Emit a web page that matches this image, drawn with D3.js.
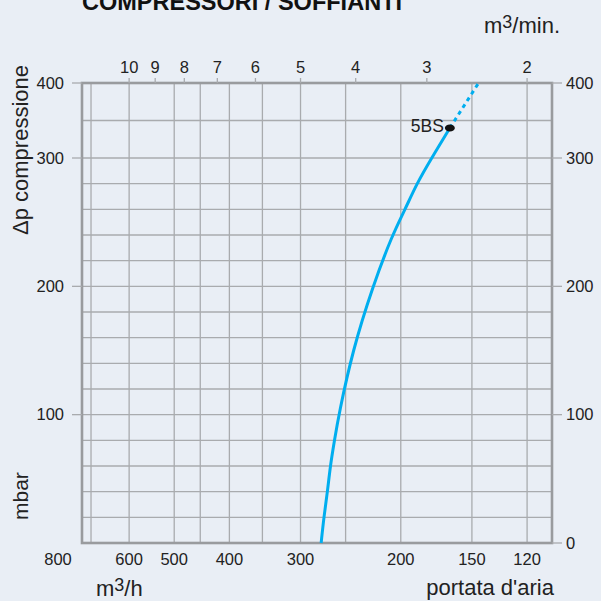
<!DOCTYPE html>
<html><head><meta charset="utf-8">
<script src="https://cdn.jsdelivr.net/npm/d3@7"></script>
<style>
html,body{margin:0;padding:0;background:#e9eef5;}
svg{display:block;font-family:"Liberation Sans",Arial,Helvetica,sans-serif;}
</style></head>
<body>
<svg id="chart" width="601" height="601"></svg>
<script>
// ---- data ----
const title = "COMPRESSORI / SOFFIANTI";
const flowGrid = [700, 600, 500, 450, 400, 350, 300, 250, 200, 150, 120];        // m3/h grid lines
const flowLabels = [800, 600, 500, 400, 300, 200, 150, 120];                      // m3/h tick labels
const flowMinLabels = [10, 9, 8, 7, 6, 5, 4, 3, 2];                               // m3/min tick labels
const pressureGrid = [0,20,40,60,80,100,120,140,160,180,200,220,240,260,280,300,350,400];
const pressureLeftLabels = [400, 300, 200, 100];
const pressureRightLabels = [400, 300, 200, 100, 0];
const flowExtent = [726, 108.5];        // m3/h at plot left / right edge
const pressureBreaks = [0, 300, 400];   // mbar, axis is compressed above 300
// curve 5BS (solid part)
const curveFlow =     [276, 273, 269, 266, 261.5, 257, 243, 224, 207, 196.5, 187.5, 176.5, 164];
const curvePressure = [0,   20,  40,  60,  80,    100, 150, 200, 240, 260,   280,   300,   340];
// dotted extension
const extFlow = [164, 146];
const extPressure = [340, 400];
const pointName = "5BS";
const pointFlow = 164, pointPressure = 340;

// ---- layout ----
const L = 82, R = 552, T = 83, B = 543;
const svg = d3.select("#chart");
const textCol = "#222";
const gridCol = "#a9abae";
const frameCol = "#999b9e";
const blue = "#00aeef";

const x = d3.scaleLog().domain(flowExtent).range([L, R]);
const yTop300 = 158;
const y = d3.scaleLinear().domain(pressureBreaks).range([B, yTop300, T]);

// title
svg.append("text").attr("x", L).attr("y", 10).attr("font-size", 23).attr("font-weight", "bold")
  .attr("fill", "#111").attr("textLength", 320).attr("lengthAdjust", "spacingAndGlyphs").text(title);

// grid
const g = svg.append("g");
g.selectAll("line.v").data(flowGrid).join("line").attr("class", "v")
  .attr("x1", d => x(d)).attr("x2", d => x(d)).attr("y1", T).attr("y2", B)
  .attr("stroke", gridCol).attr("stroke-width", 1.3);
g.selectAll("line.h").data(pressureGrid).join("line").attr("class", "h")
  .attr("x1", L).attr("x2", R).attr("y1", d => y(d)).attr("y2", d => y(d))
  .attr("stroke", gridCol).attr("stroke-width", 1.3);

// frame
svg.append("rect").attr("x", L).attr("y", T).attr("width", R - L).attr("height", B - T)
  .attr("fill", "none").attr("stroke", frameCol).attr("stroke-width", 2.6);

// top axis (m3/min)
const topAxis = svg.append("g");
topAxis.selectAll("line").data(flowMinLabels).join("line")
  .attr("x1", d => x(d * 60)).attr("x2", d => x(d * 60)).attr("y1", T - 5).attr("y2", T)
  .attr("stroke", gridCol).attr("stroke-width", 1.3);
topAxis.selectAll("text").data(flowMinLabels).join("text")
  .attr("x", d => x(d * 60)).attr("y", 73).attr("text-anchor", "middle")
  .attr("font-size", 16.5).attr("fill", textCol).text(d => d);

// bottom axis labels (m3/h)
svg.append("g").selectAll("text").data(flowLabels).join("text")
  .attr("x", d => x(d)).attr("y", 565).attr("text-anchor", "middle")
  .attr("font-size", 16.5).attr("fill", textCol).text(d => d);

// left axis
const leftAxis = svg.append("g");
leftAxis.selectAll("line").data(pressureLeftLabels).join("line")
  .attr("x1", L - 10).attr("x2", L).attr("y1", d => y(d)).attr("y2", d => y(d))
  .attr("stroke", gridCol).attr("stroke-width", 1.3);
leftAxis.selectAll("text").data(pressureLeftLabels).join("text")
  .attr("x", 64).attr("y", d => y(d)).attr("dy", "0.35em").attr("text-anchor", "end")
  .attr("font-size", 16.5).attr("fill", textCol).text(d => d);

// right axis
const rightAxis = svg.append("g");
rightAxis.selectAll("line").data(pressureRightLabels).join("line")
  .attr("x1", R).attr("x2", R + 10).attr("y1", d => y(d)).attr("y2", d => y(d))
  .attr("stroke", gridCol).attr("stroke-width", 1.3);
rightAxis.selectAll("text").data(pressureRightLabels).join("text")
  .attr("x", 566).attr("y", d => y(d)).attr("dy", "0.35em").attr("text-anchor", "start")
  .attr("font-size", 16.5).attr("fill", textCol).text(d => d);

// axis titles
const t1 = svg.append("text").attr("x", 484).attr("y", 33).attr("font-size", 22).attr("fill", textCol);
t1.append("tspan").text("m");
t1.append("tspan").attr("dy", -5).attr("font-size", 18).text("3");
t1.append("tspan").attr("dy", 5).text("/min.");

const t2 = svg.append("text").attr("x", 96).attr("y", 596).attr("font-size", 22).attr("fill", textCol);
t2.append("tspan").text("m");
t2.append("tspan").attr("dy", -5).attr("font-size", 18).text("3");
t2.append("tspan").attr("dy", 5).text("/h");

svg.append("text").attr("x", 554).attr("y", 595).attr("text-anchor", "end")
  .attr("font-size", 22).attr("fill", textCol).text("portata d'aria");

svg.append("text").attr("transform", "translate(28,235) rotate(-90)")
  .attr("font-size", 22).attr("fill", textCol).text("Δp compressione");
svg.append("text").attr("transform", "translate(28,520) rotate(-90)")
  .attr("font-size", 21).attr("fill", textCol).text("mbar");

// curve
const pts = curveFlow.map((f, i) => [f, curvePressure[i]]);
const line = d3.line().x(d => x(d[0])).y(d => y(d[1])).curve(d3.curveBasis);
svg.append("path").attr("d", line(pts)).attr("fill", "none")
  .attr("stroke", blue).attr("stroke-width", 3);
const ext = extFlow.map((f, i) => [f, extPressure[i]]);
svg.append("path").attr("d", d3.line().x(d => x(d[0])).y(d => y(d[1]))(ext)).attr("fill", "none")
  .attr("stroke", blue).attr("stroke-width", 3).attr("stroke-dasharray", "4,4");

// point
svg.append("ellipse").attr("cx", x(pointFlow)).attr("cy", y(pointPressure))
  .attr("rx", 5).attr("ry", 3.5).attr("fill", "#111");
svg.append("text").attr("x", x(pointFlow) - 6).attr("y", y(pointPressure) + 4)
  .attr("text-anchor", "end").attr("font-size", 17.5).attr("fill", textCol).text(pointName);
</script>
</body></html>
